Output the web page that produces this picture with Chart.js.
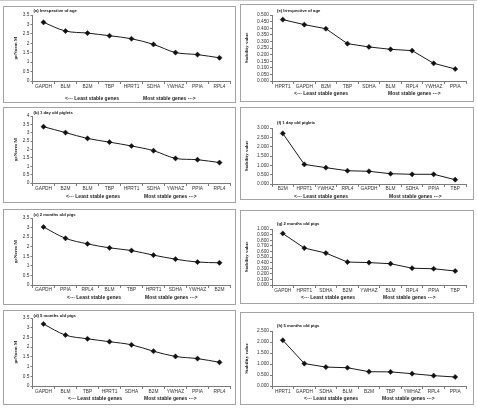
<!DOCTYPE html>
<html><head><meta charset="utf-8">
<script src="https://cdn.jsdelivr.net/npm/chart.js@4.4.1/dist/chart.umd.min.js"></script>
<style>
html,body{margin:0;padding:0;background:#fff;width:477px;height:409px;overflow:hidden;position:relative}
.box{position:absolute;border:1px solid #a3a3a3;box-sizing:border-box}
.topline{position:absolute;left:0;top:0;width:477px;height:1px;background:#c8c8c8}
canvas{position:absolute}
</style></head><body>
<div class="topline"></div>
<script>
// ---- data ----
const genesA = ["GAPDH","BLM","B2M","TBP","HPRT1","SDHA","YWHAZ","PPIA","RPL4"];
const geNormA = [3.11,2.65,2.54,2.40,2.24,1.94,1.51,1.40,1.23];
const genesB = ["GAPDH","B2M","BLM","TBP","HPRT1","SDHA","YWHAZ","PPIA","RPL4"];
const geNormB = [3.36,3.01,2.66,2.44,2.21,1.93,1.47,1.39,1.22];
const genesC = ["GAPDH","PPIA","RPL4","BLM","TBP","HPRT1","SDHA","YWHAZ","B2M"];
const geNormC = [3.03,2.44,2.15,1.94,1.80,1.56,1.35,1.20,1.16];
const genesD = ["GAPDH","BLM","TBP","HPRT1","SDHA","B2M","YWHAZ","PPIA","RPL4"];
const geNormD = [3.19,2.62,2.43,2.28,2.12,1.79,1.52,1.41,1.22];
const genesE = ["HPRT1","GAPDH","B2M","TBP","SDHA","BLM","RPL4","YWHAZ","PPIA"];
const stabE = [0.465,0.427,0.396,0.283,0.258,0.240,0.230,0.134,0.091];
const genesF = ["B2M","HPRT1","YWHAZ","RPL4","GAPDH","BLM","SDHA","PPIA","TBP"];
const stabF = [2.71,1.05,0.875,0.71,0.68,0.55,0.52,0.52,0.23];
const genesG = ["GAPDH","HPRT1","SDHA","B2M","YWHAZ","BLM","RPL4","PPIA","TBP"];
const stabG = [0.92,0.66,0.57,0.41,0.40,0.38,0.30,0.29,0.25];
const genesH = ["HPRT1","GAPDH","SDHA","BLM","B2M","TBP","YWHAZ","RPL4","PPIA"];
const stabH = [2.08,1.02,0.86,0.83,0.65,0.64,0.56,0.47,0.41];

const panelTitles = ["(a) Irrespective of age","(b) 1 day old piglets","(c) 2 months old pigs","(d) 5 months old pigs",
                     "(e) Irrespective of age","(f) 1 day old piglets","(g) 2 months old pigs","(h) 5 months old pigs"];
const yMaxes = [3.5,4,3.5,3.5,0.5,3,1,2.5];
const ySteps = [0.5,0.5,0.5,0.5,0.05,0.5,0.1,0.5];
const yTitleLeft = "geNorm M";
const yTitleRight = "Stability value";
const leastText = "<--- Least stable genes";
const mostText = "Most stable genes --->";

// ---- layout (page pixels) ----
const geo = [
 {box:[3,6,233,97],   plot:[32.5,230.5,15,81],  titleY:11,  labY:87,  textY:99,  leastX:65,  mostX:143},
 {box:[3,107,233,96], plot:[32.5,230.5,116,183],titleY:113, labY:189, textY:197, leastX:66,  mostX:144},
 {box:[3,209,233,96], plot:[32.5,230.5,218,285],titleY:215, labY:290, textY:298, leastX:67,  mostX:145},
 {box:[3,310,233,95], plot:[32.5,230.5,318,386],titleY:316, labY:392, textY:399, leastX:68,  mostX:144},
 {box:[240,4,234,98], plot:[272,466,15,81],     titleY:11,  labY:87,  textY:94,  leastX:294, mostX:388},
 {box:[240,107,234,93],plot:[272,466,128,184],  titleY:123, labY:189, textY:197, leastX:294, mostX:389},
 {box:[240,210,234,94],plot:[272,466,229,285],  titleY:224, labY:291, textY:298, leastX:301, mostX:383},
 {box:[240,312,234,93],plot:[272,466,331,386],  titleY:326, labY:392, textY:399, leastX:304, mostX:382}
];

const cats = [genesA,genesB,genesC,genesD,genesE,genesF,genesG,genesH];
const vals = [geNormA,geNormB,geNormC,geNormD,stabE,stabF,stabG,stabH];

const SANS = '"Liberation Sans", Arial, sans-serif';
const SERIF = '"Liberation Serif", "Times New Roman", serif';

const panelText = {
  id:'panelText',
  afterDraw(chart, args, o){
    const ctx = chart.ctx, ca = chart.chartArea;
    ctx.save();
    ctx.fillStyle = '#111';
    ctx.textBaseline = 'middle';
    ctx.textAlign = 'left';
    ctx.font = 'bold 4.2px ' + SANS;
    ctx.fillText(o.title, ca.left + o.titleDx, o.titleY);
    ctx.font = 'bold 5px ' + SANS;
    ctx.fillStyle = '#222';
    ctx.fillText(o.least, o.leastX, o.textY);
    ctx.fillText(o.most, o.mostX, o.textY);
    ctx.restore();
  }
};

for (let i = 0; i < 8; i++) {
  const g = geo[i];
  const [bx,by,bw,bh] = g.box;
  const [pl,pr,pt,pb] = g.plot;
  const right = i >= 4;
  const div = document.createElement('div');
  div.className = 'box';
  Object.assign(div.style,{left:bx+'px',top:by+'px',width:bw+'px',height:bh+'px'});
  document.body.appendChild(div);
  const cv = document.createElement('canvas');
  cv.width = bw; cv.height = bh;
  Object.assign(cv.style,{left:bx+'px',top:by+'px',width:bw+'px',height:bh+'px'});
  document.body.appendChild(cv);

  const yW = pl - bx;
  const padTop = pt - by;
  const padRight = bx + bw - pr;
  const xH = g.labY - pb + 5;
  const padBottom = Math.max(0, bh - (pb - by) - xH);
  const xPad = Math.round(g.labY - pb - 3 - 2.9);

  new Chart(cv, {
    type:'line',
    data:{labels:cats[i], datasets:[{
      data:vals[i], borderColor:'#1a1a1a', backgroundColor:'#111', borderWidth:1,
      pointStyle:'rectRot', pointRadius:2.6, pointHoverRadius:2.6, pointBorderWidth:0.5,
      tension: right ? 0 : 0.35, fill:false
    }]},
    options:{
      responsive:false, animation:false, devicePixelRatio:1, events:[],
      layout:{padding:{left:0, top:padTop, right:padRight, bottom:padBottom}},
      plugins:{
        legend:{display:false}, tooltip:{enabled:false},
        panelText:{title:panelTitles[i], titleDx: right ? 5 : 1, titleY:g.titleY - by,
                   least:leastText, most:mostText, leastX:g.leastX - bx, mostX:g.mostX - bx, textY:g.textY - by}
      },
      scales:{
        x:{type:'category', offset:true,
           grid:{offset:true, drawOnChartArea:false, drawTicks:true, tickLength:3, color:'#7a7a7a', lineWidth:1},
           border:{color:'#7a7a7a', width:1},
           ticks:{autoSkip:false, maxRotation:0, minRotation:0, padding:xPad, font:{family:SANS, size:4.8}, color:'#333'},
           afterFit:(s)=>{ s.height = xH; }},
        y:{min:0, max:yMaxes[i],
           ticks:{stepSize:ySteps[i], autoSkip:false, padding:1, font:{family:SANS, size:4.8}, color:'#333',
                  callback:(v)=> right ? Number(v).toFixed(3) : String(Math.round(v*100)/100)},
           grid:{drawOnChartArea:false, drawTicks:true, tickLength:2, color:'#7a7a7a'},
           border:{color:'#7a7a7a', width:1},
           title:{display:true, text: right ? yTitleRight : yTitleLeft, color:'#222',
                  font:{family:SERIF, size:5, weight:'bold'}, padding:{top: right ? 4 : 10, bottom:0}},
           afterFit:(s)=>{ s.width = yW; }}
      }
    },
    plugins:[panelText]
  });
}
</script>
</body></html>
